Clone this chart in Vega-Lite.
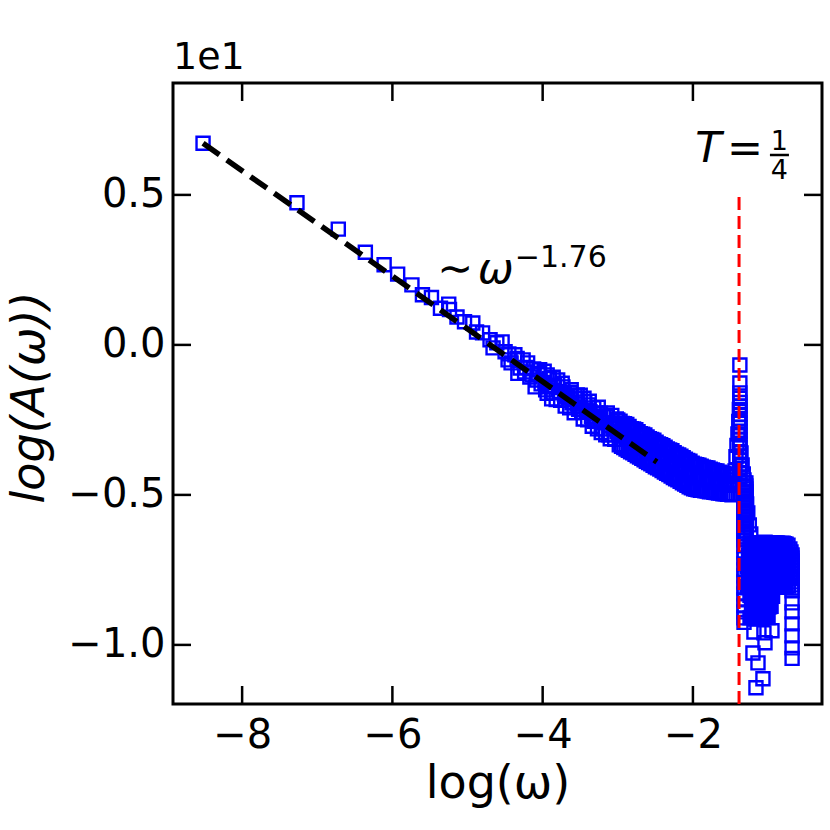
{
  "$schema": "https://vega.github.io/schema/vega-lite/v6.json",
  "width": 649,
  "height": 621,
  "autosize": "none",
  "padding": {"left": 173, "top": 83, "right": 8, "bottom": 126},
  "background": "white",
  "title": {"text": "1e1", "anchor": "start", "frame": "group", "font": "DejaVu Sans", "fontSize": 38, "fontWeight": "normal", "color": "black", "offset": 6},
  "layer": [
    {
      "data": {"values": [
        {"x":-8.52,"y":0.672},{"x":-7.27,"y":0.474},{"x":-6.72,"y":0.386},{"x":-6.36,"y":0.309},{"x":-6.11,"y":0.267},{"x":-5.93,"y":0.236},{"x":-5.74,"y":0.2},{"x":-5.6,"y":0.167},{"x":-5.48,"y":0.158},{"x":-5.36,"y":0.122},{"x":-5.25,"y":0.136},{"x":-5.24,"y":0.118},{"x":-5.14,"y":0.093},{"x":-5.04,"y":0.077},{"x":-4.93,"y":0.073},{"x":-4.88,"y":0.043},{"x":-4.8,"y":0.04},{"x":-4.7,"y":0.017},{"x":-4.66,"y":-0.01},{"x":-4.61,"y":0.007},{"x":-4.54,"y":0.01},{"x":-4.5,"y":-0.023},{"x":-4.46,"y":-0.05},{"x":-4.45,"y":-0.03},{"x":-4.42,"y":-0.06},{"x":-4.37,"y":-0.033},{"x":-4.34,"y":-0.045},{"x":-4.33,"y":-0.095},{"x":-4.3,"y":-0.077},{"x":-4.26,"y":-0.05},{"x":-4.24,"y":-0.09},{"x":-4.22,"y":-0.075},{"x":-4.2,"y":-0.06},{"x":-4.17,"y":-0.107},{"x":-4.14,"y":-0.1},{"x":-4.12,"y":-0.08},{"x":-4.1,"y":-0.14},{"x":-4.08,"y":-0.117},{"x":-4.06,"y":-0.095},{"x":-4.04,"y":-0.083},{"x":-4.02,"y":-0.13},
        {"x":-3.98,"y":-0.088},{"x":-3.97,"y":-0.125},{"x":-3.96,"y":-0.15},{"x":-3.94,"y":-0.1},{"x":-3.94,"y":-0.161},{"x":-3.93,"y":-0.14},{"x":-3.91,"y":-0.112},{"x":-3.9,"y":-0.135},{"x":-3.88,"y":-0.18},{"x":-3.86,"y":-0.108},{"x":-3.86,"y":-0.16},{"x":-3.84,"y":-0.135},{"x":-3.82,"y":-0.182},{"x":-3.8,"y":-0.117},{"x":-3.78,"y":-0.156},{"x":-3.76,"y":-0.185},{"x":-3.74,"y":-0.128},{"x":-3.73,"y":-0.14},{"x":-3.71,"y":-0.165},{"x":-3.7,"y":-0.204},{"x":-3.68,"y":-0.173},{"x":-3.66,"y":-0.177},{"x":-3.64,"y":-0.21},{"x":-3.63,"y":-0.158},{"x":-3.62,"y":-0.149},{"x":-3.61,"y":-0.193},{"x":-3.58,"y":-0.226},{"x":-3.57,"y":-0.17},{"x":-3.56,"y":-0.18},{"x":-3.54,"y":-0.167},{"x":-3.54,"y":-0.197},{"x":-3.52,"y":-0.215},{"x":-3.5,"y":-0.168},{"x":-3.5,"y":-0.207},{"x":-3.48,"y":-0.225},{"x":-3.46,"y":-0.247},{"x":-3.45,"y":-0.178},{"x":-3.44,"y":-0.19},{"x":-3.42,"y":-0.218},{"x":-3.4,"y":-0.25},{"x":-3.39,"y":-0.2},{"x":-3.38,"y":-0.188},{"x":-3.37,"y":-0.223},{"x":-3.35,"y":-0.238},{"x":-3.34,"y":-0.271},{"x":-3.32,"y":-0.21},{"x":-3.31,"y":-0.255},{"x":-3.3,"y":-0.24},{"x":-3.28,"y":-0.227},{"x":-3.27,"y":-0.28},{"x":-3.26,"y":-0.208},{"x":-3.24,"y":-0.25},{"x":-3.23,"y":-0.228},{"x":-3.22,"y":-0.292},{"x":-3.2,"y":-0.28},{"x":-3.19,"y":-0.238},{"x":-3.18,"y":-0.26},{"x":-3.16,"y":-0.3},{"x":-3.15,"y":-0.24},{"x":-3.14,"y":-0.227},{"x":-3.12,"y":-0.3},{"x":-3.11,"y":-0.27},{"x":-3.1,"y":-0.313},{"x":-3.08,"y":-0.235},{"x":-3.07,"y":-0.26},{"x":-3.06,"y":-0.28},{"x":-3.04,"y":-0.315},{"x":-3.03,"y":-0.265},{"x":-3.02,"y":-0.247},{"x":-3.01,"y":-0.29},
        {"x":-3.0,"y":-0.25},{"x":-2.98,"y":-0.333},{"x":-2.96,"y":-0.295},{"x":-2.94,"y":-0.262},{"x":-2.92,"y":-0.342},{"x":-2.9,"y":-0.304},{"x":-2.88,"y":-0.265},{"x":-2.86,"y":-0.351},{"x":-2.84,"y":-0.31},{"x":-2.82,"y":-0.279},{"x":-2.8,"y":-0.36},{"x":-2.78,"y":-0.321},{"x":-2.76,"y":-0.283},{"x":-2.74,"y":-0.37},{"x":-2.72,"y":-0.33},{"x":-2.7,"y":-0.296},{"x":-2.68,"y":-0.378},{"x":-2.66,"y":-0.338},{"x":-2.64,"y":-0.3},{"x":-2.62,"y":-0.388},{"x":-2.6,"y":-0.347},{"x":-2.58,"y":-0.313},{"x":-2.56,"y":-0.396},{"x":-2.54,"y":-0.355},{"x":-2.52,"y":-0.318},{"x":-2.5,"y":-0.406},{"x":-2.48,"y":-0.365},{"x":-2.46,"y":-0.33},{"x":-2.44,"y":-0.414},{"x":-2.42,"y":-0.373},{"x":-2.4,"y":-0.336},{"x":-2.38,"y":-0.424},{"x":-2.36,"y":-0.382},{"x":-2.34,"y":-0.347},{"x":-2.32,"y":-0.432},{"x":-2.3,"y":-0.391},{"x":-2.28,"y":-0.353},{"x":-2.26,"y":-0.442},{"x":-2.24,"y":-0.4},{"x":-2.22,"y":-0.364},{"x":-2.2,"y":-0.45},{"x":-2.18,"y":-0.408},{"x":-2.16,"y":-0.371},{"x":-2.14,"y":-0.46},{"x":-2.12,"y":-0.417},{"x":-2.1,"y":-0.381},{"x":-2.08,"y":-0.468},{"x":-2.06,"y":-0.426},{"x":-2.04,"y":-0.388},{"x":-2.02,"y":-0.476},{"x":-2.0,"y":-0.436},{"x":-1.98,"y":-0.398},{"x":-1.96,"y":-0.481},{"x":-1.94,"y":-0.441},{"x":-1.92,"y":-0.401},{"x":-1.9,"y":-0.485},{"x":-1.88,"y":-0.444},{"x":-1.86,"y":-0.408},{"x":-1.84,"y":-0.486},{"x":-1.82,"y":-0.448},{"x":-1.8,"y":-0.41},{"x":-1.78,"y":-0.49},{"x":-1.76,"y":-0.45},{"x":-1.74,"y":-0.417},{"x":-1.72,"y":-0.491},{"x":-1.7,"y":-0.452},{"x":-1.68,"y":-0.42},{"x":-1.66,"y":-0.494},{"x":-1.64,"y":-0.457},{"x":-1.62,"y":-0.427},{"x":-1.6,"y":-0.496},{"x":-1.58,"y":-0.46},{"x":-1.56,"y":-0.43},{"x":-1.54,"y":-0.498},{"x":-1.52,"y":-0.462},{"x":-1.5,"y":-0.437},{"x":-1.48,"y":-0.5},{"x":-1.46,"y":-0.465},
        {"x":-2.99,"y":-0.291},{"x":-2.97,"y":-0.254},{"x":-2.95,"y":-0.338},{"x":-2.93,"y":-0.3},{"x":-2.91,"y":-0.263},{"x":-2.89,"y":-0.347},{"x":-2.87,"y":-0.309},{"x":-2.85,"y":-0.272},{"x":-2.83,"y":-0.356},{"x":-2.81,"y":-0.318},{"x":-2.79,"y":-0.28},{"x":-2.77,"y":-0.365},{"x":-2.75,"y":-0.327},{"x":-2.73,"y":-0.289},{"x":-2.71,"y":-0.374},{"x":-2.69,"y":-0.336},{"x":-2.67,"y":-0.298},{"x":-2.65,"y":-0.383},{"x":-2.63,"y":-0.345},{"x":-2.61,"y":-0.307},{"x":-2.59,"y":-0.392},{"x":-2.57,"y":-0.353},{"x":-2.55,"y":-0.315},{"x":-2.53,"y":-0.401},{"x":-2.51,"y":-0.362},{"x":-2.49,"y":-0.324},{"x":-2.47,"y":-0.41},{"x":-2.45,"y":-0.371},{"x":-2.43,"y":-0.333},{"x":-2.41,"y":-0.419},{"x":-2.39,"y":-0.38},{"x":-2.37,"y":-0.341},{"x":-2.35,"y":-0.428},{"x":-2.33,"y":-0.389},{"x":-2.31,"y":-0.35},{"x":-2.29,"y":-0.437},{"x":-2.27,"y":-0.398},{"x":-2.25,"y":-0.359},{"x":-2.23,"y":-0.446},{"x":-2.21,"y":-0.407},{"x":-2.19,"y":-0.367},{"x":-2.17,"y":-0.455},{"x":-2.15,"y":-0.415},{"x":-2.13,"y":-0.376},{"x":-2.11,"y":-0.464},{"x":-2.09,"y":-0.424},{"x":-2.07,"y":-0.385},{"x":-2.05,"y":-0.473},{"x":-2.03,"y":-0.433},{"x":-2.01,"y":-0.394},{"x":-1.99,"y":-0.48},{"x":-1.97,"y":-0.439},{"x":-1.95,"y":-0.399},{"x":-1.93,"y":-0.483},{"x":-1.91,"y":-0.443},{"x":-1.89,"y":-0.404},{"x":-1.87,"y":-0.485},{"x":-1.85,"y":-0.447},{"x":-1.83,"y":-0.409},{"x":-1.81,"y":-0.487},{"x":-1.79,"y":-0.45},{"x":-1.77,"y":-0.414},{"x":-1.75,"y":-0.489},{"x":-1.73,"y":-0.454},{"x":-1.71,"y":-0.419},{"x":-1.69,"y":-0.492},{"x":-1.67,"y":-0.457},{"x":-1.65,"y":-0.424},{"x":-1.63,"y":-0.494},{"x":-1.61,"y":-0.461},{"x":-1.59,"y":-0.429},{"x":-1.57,"y":-0.496},{"x":-1.55,"y":-0.465},{"x":-1.53,"y":-0.434},{"x":-1.51,"y":-0.498},{"x":-1.49,"y":-0.468},{"x":-1.47,"y":-0.439},
        {"x":-1.454,"y":-0.45},{"x":-1.44,"y":-0.42},{"x":-1.427,"y":-0.373},{"x":-1.414,"y":-0.335},{"x":-1.401,"y":-0.297},{"x":-1.39,"y":-0.255},{"x":-1.382,"y":-0.215},
        {"x":-1.375,"y":-0.067},{"x":-1.375,"y":-0.127},{"x":-1.375,"y":-0.16},{"x":-1.375,"y":-0.178},{"x":-1.375,"y":-0.192},{"x":-1.375,"y":-0.205},{"x":-1.375,"y":-0.218},{"x":-1.375,"y":-0.232},{"x":-1.375,"y":-0.246},{"x":-1.375,"y":-0.26},{"x":-1.375,"y":-0.274},{"x":-1.375,"y":-0.288},{"x":-1.375,"y":-0.3},{"x":-1.375,"y":-0.314},{"x":-1.375,"y":-0.328},{"x":-1.375,"y":-0.342},{"x":-1.375,"y":-0.356},{"x":-1.375,"y":-0.37},{"x":-1.375,"y":-0.384},{"x":-1.375,"y":-0.398},{"x":-1.375,"y":-0.412},{"x":-1.375,"y":-0.426},{"x":-1.375,"y":-0.44},
        {"x":-1.36,"y":-0.36},{"x":-1.345,"y":-0.4},{"x":-1.33,"y":-0.43},{"x":-1.31,"y":-0.46},{"x":-1.3,"y":-0.49},{"x":-1.285,"y":-0.53},{"x":-1.27,"y":-0.56},{"x":-1.25,"y":-0.6},{"x":-1.23,"y":-0.63},
        {"x":-1.32,"y":-0.45},{"x":-1.32,"y":-0.46},{"x":-1.32,"y":-0.47},{"x":-1.32,"y":-0.48},{"x":-1.32,"y":-0.49},{"x":-1.32,"y":-0.5},{"x":-1.32,"y":-0.51},{"x":-1.32,"y":-0.52},{"x":-1.32,"y":-0.53},{"x":-1.32,"y":-0.54},{"x":-1.32,"y":-0.55},{"x":-1.32,"y":-0.56},{"x":-1.32,"y":-0.57},{"x":-1.32,"y":-0.58},{"x":-1.32,"y":-0.59},{"x":-1.32,"y":-0.6},{"x":-1.32,"y":-0.61},{"x":-1.32,"y":-0.62},{"x":-1.32,"y":-0.63},{"x":-1.32,"y":-0.64},{"x":-1.32,"y":-0.65},{"x":-1.32,"y":-0.67},{"x":-1.32,"y":-0.69},{"x":-1.32,"y":-0.71},{"x":-1.32,"y":-0.73},{"x":-1.32,"y":-0.75},{"x":-1.32,"y":-0.77},{"x":-1.32,"y":-0.79},{"x":-1.32,"y":-0.81},{"x":-1.32,"y":-0.83},{"x":-1.32,"y":-0.85},{"x":-1.32,"y":-0.87},{"x":-1.32,"y":-0.89},{"x":-1.32,"y":-0.91},{"x":-1.32,"y":-0.925},
        {"x":-1.295,"y":-0.46},{"x":-1.295,"y":-0.47},{"x":-1.295,"y":-0.48},{"x":-1.295,"y":-0.49},{"x":-1.295,"y":-0.5},{"x":-1.295,"y":-0.51},{"x":-1.295,"y":-0.52},{"x":-1.295,"y":-0.53},{"x":-1.295,"y":-0.54},{"x":-1.295,"y":-0.55},{"x":-1.295,"y":-0.56},{"x":-1.295,"y":-0.57},{"x":-1.295,"y":-0.58},{"x":-1.295,"y":-0.59},{"x":-1.295,"y":-0.6},{"x":-1.295,"y":-0.61},{"x":-1.295,"y":-0.62},{"x":-1.295,"y":-0.63},{"x":-1.295,"y":-0.64},
        {"x":-1.24,"y":-0.662},{"x":-1.22,"y":-0.661},{"x":-1.2,"y":-0.66},{"x":-1.18,"y":-0.662},{"x":-1.16,"y":-0.663},{"x":-1.14,"y":-0.66},{"x":-1.12,"y":-0.659},{"x":-1.1,"y":-0.661},{"x":-1.08,"y":-0.662},{"x":-1.06,"y":-0.66},{"x":-1.04,"y":-0.658},{"x":-1.02,"y":-0.66},{"x":-1.0,"y":-0.661},{"x":-0.98,"y":-0.662},{"x":-0.96,"y":-0.659},{"x":-0.94,"y":-0.66},{"x":-0.92,"y":-0.662},{"x":-0.9,"y":-0.661},{"x":-0.88,"y":-0.66},{"x":-0.86,"y":-0.662},{"x":-0.84,"y":-0.663},{"x":-0.82,"y":-0.662},{"x":-0.8,"y":-0.661},{"x":-0.78,"y":-0.663},{"x":-0.76,"y":-0.664},
        {"x":-1.26,"y":-0.7},{"x":-1.24,"y":-0.701},{"x":-1.22,"y":-0.703},{"x":-1.2,"y":-0.7},{"x":-1.18,"y":-0.698},{"x":-1.16,"y":-0.7},{"x":-1.14,"y":-0.702},{"x":-1.12,"y":-0.701},{"x":-1.1,"y":-0.699},{"x":-1.08,"y":-0.7},{"x":-1.06,"y":-0.701},{"x":-1.04,"y":-0.699},{"x":-1.02,"y":-0.697},{"x":-1.0,"y":-0.7},{"x":-0.98,"y":-0.702},{"x":-0.96,"y":-0.701},{"x":-0.94,"y":-0.7},{"x":-0.92,"y":-0.699},{"x":-0.9,"y":-0.698},{"x":-0.88,"y":-0.7},{"x":-0.86,"y":-0.703},{"x":-0.84,"y":-0.701},{"x":-0.82,"y":-0.7},{"x":-0.8,"y":-0.699},{"x":-0.78,"y":-0.699},{"x":-0.76,"y":-0.701},{"x":-0.74,"y":-0.702},{"x":-0.72,"y":-0.7},
        {"x":-1.28,"y":-0.738},{"x":-1.26,"y":-0.74},{"x":-1.24,"y":-0.741},{"x":-1.22,"y":-0.739},{"x":-1.2,"y":-0.736},{"x":-1.18,"y":-0.738},{"x":-1.16,"y":-0.739},{"x":-1.14,"y":-0.74},{"x":-1.12,"y":-0.742},{"x":-1.1,"y":-0.739},{"x":-1.08,"y":-0.737},{"x":-1.06,"y":-0.738},{"x":-1.04,"y":-0.74},{"x":-1.02,"y":-0.738},{"x":-1.0,"y":-0.735},{"x":-0.98,"y":-0.737},{"x":-0.96,"y":-0.739},{"x":-0.94,"y":-0.74},{"x":-0.92,"y":-0.741},{"x":-0.9,"y":-0.739},{"x":-0.88,"y":-0.737},{"x":-0.86,"y":-0.738},{"x":-0.84,"y":-0.74},{"x":-0.82,"y":-0.739},{"x":-0.8,"y":-0.738},{"x":-0.78,"y":-0.74},{"x":-0.76,"y":-0.742},{"x":-0.74,"y":-0.74},{"x":-0.72,"y":-0.739},
        {"x":-1.26,"y":-0.776},{"x":-1.24,"y":-0.775},{"x":-1.22,"y":-0.773},{"x":-1.2,"y":-0.776},{"x":-1.18,"y":-0.778},{"x":-1.16,"y":-0.776},{"x":-1.14,"y":-0.775},{"x":-1.12,"y":-0.777},{"x":-1.1,"y":-0.779},{"x":-1.08,"y":-0.776},{"x":-1.06,"y":-0.774},{"x":-1.04,"y":-0.775},{"x":-1.02,"y":-0.777},{"x":-1.0,"y":-0.778},{"x":-0.98,"y":-0.776},{"x":-0.96,"y":-0.774},{"x":-0.94,"y":-0.772},{"x":-0.92,"y":-0.775},{"x":-0.9,"y":-0.778},{"x":-0.88,"y":-0.776},{"x":-0.86,"y":-0.775},{"x":-0.84,"y":-0.776},{"x":-0.82,"y":-0.777},{"x":-0.8,"y":-0.775},{"x":-0.78,"y":-0.774},{"x":-0.76,"y":-0.776},{"x":-0.74,"y":-0.778},{"x":-0.71,"y":-0.776},
        {"x":-1.28,"y":-0.805},{"x":-1.26,"y":-0.806},{"x":-1.24,"y":-0.808},{"x":-1.22,"y":-0.805},{"x":-1.2,"y":-0.803},{"x":-1.18,"y":-0.805},{"x":-1.16,"y":-0.806},{"x":-1.14,"y":-0.808},{"x":-1.12,"y":-0.809},{"x":-1.1,"y":-0.806},{"x":-1.08,"y":-0.804},{"x":-1.06,"y":-0.805},{"x":-1.04,"y":-0.807},{"x":-1.02,"y":-0.806},{"x":-1.0,"y":-0.805},{"x":-0.98,"y":-0.808},{"x":-0.96,"y":-0.81},{"x":-0.94,"y":-0.807},{"x":-0.92,"y":-0.806},{"x":-0.9,"y":-0.804},{"x":-0.88,"y":-0.803},{"x":-0.86,"y":-0.806},{"x":-0.84,"y":-0.808},{"x":-0.82,"y":-0.806},{"x":-0.8,"y":-0.805},{"x":-0.78,"y":-0.806},{"x":-0.76,"y":-0.807},{"x":-0.73,"y":-0.804},
        {"x":-1.24,"y":-0.835},{"x":-1.22,"y":-0.836},{"x":-1.2,"y":-0.838},{"x":-1.18,"y":-0.835},{"x":-1.16,"y":-0.833},{"x":-1.14,"y":-0.834},{"x":-1.12,"y":-0.836},{"x":-1.1,"y":-0.838},{"x":-1.08,"y":-0.839},{"x":-1.06,"y":-0.836},{"x":-1.04,"y":-0.834},{"x":-1.02,"y":-0.835},{"x":-1.0,"y":-0.837},{"x":-0.98,"y":-0.836},{"x":-0.96,"y":-0.835},{"x":-0.94,"y":-0.838},
        {"x":-1.22,"y":-0.872},{"x":-1.2,"y":-0.873},{"x":-1.18,"y":-0.875},{"x":-1.16,"y":-0.872},{"x":-1.14,"y":-0.87},{"x":-1.12,"y":-0.872},{"x":-1.1,"y":-0.874},{"x":-1.08,"y":-0.873},{"x":-1.06,"y":-0.871},{"x":-1.04,"y":-0.874},{"x":-1.02,"y":-0.876},{"x":-1.0,"y":-0.874},{"x":-0.98,"y":-0.873},{"x":-0.96,"y":-0.871},
        {"x":-1.24,"y":-0.91},{"x":-1.22,"y":-0.908},{"x":-1.2,"y":-0.906},{"x":-1.18,"y":-0.909},{"x":-1.16,"y":-0.912},{"x":-1.14,"y":-0.91},{"x":-1.12,"y":-0.908},{"x":-1.1,"y":-0.909},{"x":-1.08,"y":-0.911},{"x":-1.06,"y":-0.908},{"x":-1.04,"y":-0.905},{"x":-1.02,"y":-0.907},{"x":-1.0,"y":-0.909},
        {"x":-0.735,"y":-0.668},{"x":-0.71,"y":-0.68},{"x":-0.695,"y":-0.69},{"x":-0.68,"y":-0.7},{"x":-0.68,"y":-0.71},{"x":-0.68,"y":-0.72},{"x":-0.68,"y":-0.73},{"x":-0.68,"y":-0.74},{"x":-0.68,"y":-0.75},{"x":-0.68,"y":-0.76},{"x":-0.68,"y":-0.77},{"x":-0.68,"y":-0.78},{"x":-0.68,"y":-0.79},{"x":-0.68,"y":-0.8},{"x":-0.68,"y":-0.81},{"x":-0.68,"y":-0.82},{"x":-0.68,"y":-0.86},{"x":-0.68,"y":-0.89},{"x":-0.68,"y":-0.93},{"x":-0.68,"y":-0.97},{"x":-0.68,"y":-1.01},{"x":-0.68,"y":-1.045},
        {"x":-1.188,"y":-0.957},{"x":-1.055,"y":-0.96},{"x":-0.948,"y":-0.953},{"x":-1.041,"y":-0.993},{"x":-1.201,"y":-1.027},{"x":-1.134,"y":-1.06},{"x":-1.068,"y":-1.113},{"x":-1.161,"y":-1.143}
      ]},
      "mark": {"type": "point", "shape": "square", "filled": false, "size": 170, "strokeWidth": 2.4, "color": "#0000ff", "opacity": 1},
      "encoding": {
        "x": {"field": "x", "type": "quantitative", "scale": {"domain": [-8.92, -0.282], "nice": false, "zero": false},
          "axis": {"orient": "bottom", "values": [-8, -6, -4, -2], "format": "d", "title": "log(ω)", "labelPadding": 11, "titleY": 93, "titleBaseline": "alphabetic"}},
        "y": {"field": "y", "type": "quantitative", "scale": {"domain": [-1.197, 0.873], "nice": false, "zero": false},
          "axis": {"orient": "left", "values": [-1, -0.5, 0, 0.5], "format": ".1f", "title": "log(A(ω))", "titleFontStyle": "italic", "labelPadding": 8, "titleX": -130, "titleY": 314, "titleBaseline": "alphabetic"}}
      }
    },
    {
      "data": {"values": [{"x": -8.52, "y": 0.672}, {"x": -2.48, "y": -0.39}]},
      "mark": {"type": "line", "color": "black", "strokeWidth": 5.5, "strokeDash": [20, 9]},
      "encoding": {
        "x": {"field": "x", "type": "quantitative"},
        "y": {"field": "y", "type": "quantitative"}
      }
    },
    {
      "data": {"values": [{"x": -1.386}]},
      "mark": {"type": "rule", "color": "#ff0000", "strokeWidth": 3, "strokeDash": [13, 6]},
      "encoding": {
        "x": {"field": "x", "type": "quantitative"},
        "y": {"datum": 0.493, "type": "quantitative"},
        "y2": {"datum": -1.197}
      }
    },
    {
      "data": {"values": [{"tx": -8, "ty": -1.197}, {"tx": -6, "ty": -1.197}, {"tx": -4, "ty": -1.197}, {"tx": -2, "ty": -1.197}]},
      "mark": {"type": "tick", "orient": "vertical", "size": 18, "thickness": 2.5, "color": "#000000", "opacity": 1, "yOffset": -9},
      "encoding": {
        "x": {"field": "tx", "type": "quantitative"},
        "y": {"field": "ty", "type": "quantitative"}
      }
    },
    {
      "data": {"values": [{"tx": -8, "ty": 0.873}, {"tx": -6, "ty": 0.873}, {"tx": -4, "ty": 0.873}, {"tx": -2, "ty": 0.873}]},
      "mark": {"type": "tick", "orient": "vertical", "size": 18, "thickness": 2.5, "color": "#000000", "opacity": 1, "yOffset": 9},
      "encoding": {
        "x": {"field": "tx", "type": "quantitative"},
        "y": {"field": "ty", "type": "quantitative"}
      }
    },
    {
      "data": {"values": [{"sy": -1, "sx": -8.92}, {"sy": -0.5, "sx": -8.92}, {"sy": 0, "sx": -8.92}, {"sy": 0.5, "sx": -8.92}]},
      "mark": {"type": "tick", "orient": "horizontal", "size": 18, "thickness": 2.5, "color": "#000000", "opacity": 1, "xOffset": 9},
      "encoding": {
        "y": {"field": "sy", "type": "quantitative"},
        "x": {"field": "sx", "type": "quantitative"}
      }
    },
    {
      "data": {"values": [{"sy": -1, "sx": -0.282}, {"sy": -0.5, "sx": -0.282}, {"sy": 0, "sx": -0.282}, {"sy": 0.5, "sx": -0.282}]},
      "mark": {"type": "tick", "orient": "horizontal", "size": 18, "thickness": 2.5, "color": "#000000", "opacity": 1, "xOffset": -9},
      "encoding": {
        "y": {"field": "sy", "type": "quantitative"},
        "x": {"field": "sx", "type": "quantitative"}
      }
    },
    {
      "data": {"values": [{"x": -0.975, "x2": -0.722, "y": 0.633}]},
      "mark": {"type": "rule", "color": "black", "strokeWidth": 2.5},
      "encoding": {
        "x": {"field": "x", "type": "quantitative"},
        "x2": {"field": "x2"},
        "y": {"field": "y", "type": "quantitative"}
      }
    },
    {
      "data": {"values": [{"t": "∼", "x": -5.163, "y": 0.207}, {"t": "=", "x": -1.308, "y": 0.61}]},
      "mark": {"type": "text", "fontSize": 43, "align": "center", "baseline": "alphabetic", "color": "black"},
      "encoding": {
        "x": {"field": "x", "type": "quantitative"},
        "y": {"field": "y", "type": "quantitative"},
        "text": {"field": "t"}
      }
    },
    {
      "data": {"values": [{"t": "ω", "x": -4.623, "y": 0.207}, {"t": "T", "x": -1.794, "y": 0.61}]},
      "mark": {"type": "text", "fontSize": 43, "fontStyle": "italic", "align": "center", "baseline": "alphabetic", "color": "black"},
      "encoding": {
        "x": {"field": "x", "type": "quantitative"},
        "y": {"field": "y", "type": "quantitative"},
        "text": {"field": "t"}
      }
    },
    {
      "data": {"values": [{"t": "−1.76", "x": -4.37, "y": 0.26}]},
      "mark": {"type": "text", "fontSize": 30, "align": "left", "baseline": "alphabetic", "color": "black"},
      "encoding": {
        "x": {"field": "x", "type": "quantitative"},
        "y": {"field": "y", "type": "quantitative"},
        "text": {"field": "t"}
      }
    },
    {
      "data": {"values": [{"t": "1", "x": -0.85, "y": 0.65}, {"t": "4", "x": -0.85, "y": 0.553}]},
      "mark": {"type": "text", "fontSize": 27, "align": "center", "baseline": "alphabetic", "color": "black"},
      "encoding": {
        "x": {"field": "x", "type": "quantitative"},
        "y": {"field": "y", "type": "quantitative"},
        "text": {"field": "t"}
      }
    }
  ],
  "config": {
    "view": {"stroke": "black", "strokeWidth": 3},
    "axis": {"domain": false, "grid": false, "gridOpacity": 0, "ticks": false,
      "labelFont": "DejaVu Sans", "labelFontSize": 40, "labelColor": "black",
      "titleFont": "DejaVu Sans", "titleFontSize": 46, "titleFontWeight": "normal", "titleColor": "black"},
    "text": {"font": "DejaVu Sans"}
  }
}
